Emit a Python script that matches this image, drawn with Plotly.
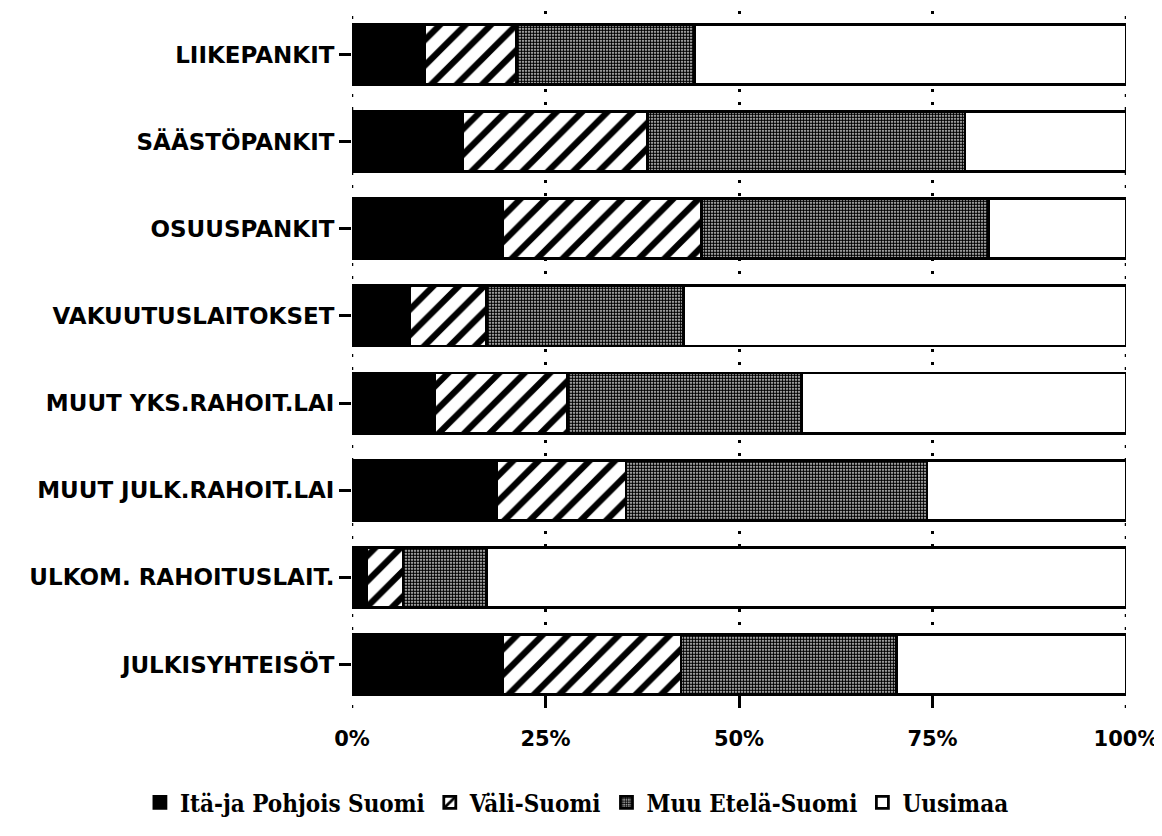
import plotly.graph_objects as go

categories = ["LIIKEPANKIT", "SÄÄSTÖPANKIT", "OSUUSPANKIT", "VAKUUTUSLAITOKSET",
              "MUUT YKS.RAHOIT.LAI", "MUUT JULK.RAHOIT.LAI", "ULKOM. RAHOITUSLAIT.",
              "JULKISYHTEISÖT"]
series_names = ["Itä-ja Pohjois Suomi", "Väli-Suomi", "Muu Etelä-Suomi", "Uusimaa"]
ita_pohjois = [9.4, 14.3, 19.4, 7.4, 10.7, 18.7, 1.9, 19.4]
vali_suomi = [11.9, 23.9, 25.8, 10.0, 17.1, 16.7, 4.7, 23.1]
muu_etela = [23.0, 41.0, 37.0, 25.4, 30.3, 38.9, 10.8, 27.8]
uusimaa = [55.7, 20.8, 17.8, 57.2, 41.9, 25.7, 82.6, 29.7]
x_ticks = [0, 25, 50, 75, 100]
x_tick_labels = ["0%", "25%", "50%", "75%", "100%"]

values = [ita_pohjois, vali_suomi, muu_etela, uusimaa]
styles = [
    dict(color="black"),
    dict(color="white", pattern=dict(shape="/", fgcolor="black", bgcolor="white",
                                     fgopacity=1, size=18, solidity=0.35)),
    dict(color="white", pattern=dict(shape=".", fgcolor="black", bgcolor="white",
                                     fgopacity=1, size=3, solidity=0.7)),
    dict(color="white"),
]

fig = go.Figure()
for name, vals, st in zip(series_names, values, styles):
    marker = dict(st)
    marker["line"] = dict(color="black", width=2.8)
    fig.add_trace(go.Bar(y=categories, x=vals, name=name, orientation="h",
                         marker=marker))

# dotted edge gridlines at 0% and 100% (behind the bars)
for xv in (x_ticks[0], x_ticks[-1]):
    fig.add_vline(x=xv, line=dict(color="black", width=2.5, dash="3px,10px"),
                  layer="below")

fig.update_layout(
    barmode="stack",
    bargap=0.31,
    width=1154, height=820,
    margin=dict(l=344, r=36, t=3, b=118),
    plot_bgcolor="white", paper_bgcolor="white",
    font=dict(family="DejaVu Sans", color="black"),
    showlegend=True,
    legend=dict(orientation="h", x=-0.274, xanchor="left",
                y=-0.136, yanchor="middle",
                font=dict(family="DejaVu Serif Condensed", size=24, weight="bold",
                          color="black"),
                itemwidth=30, traceorder="normal"),
    xaxis=dict(range=[0, 100], tickvals=x_ticks, ticktext=x_tick_labels,
               showgrid=True, gridcolor="black", gridwidth=2.5, griddash="3px,10px",
               zeroline=False, showline=False,
               ticks="inside", ticklen=12, tickwidth=2.5, tickcolor="black",
               ticklabelstandoff=16,
               tickfont=dict(size=21, weight="bold", family="DejaVu Sans")),
    yaxis=dict(autorange="reversed", showgrid=False, showline=False, zeroline=False,
               ticks="outside", ticklen=12, tickwidth=3, tickcolor="black",
               tickfont=dict(size=23, weight="bold", family="DejaVu Sans")),
)

fig.write_html("out.html")
